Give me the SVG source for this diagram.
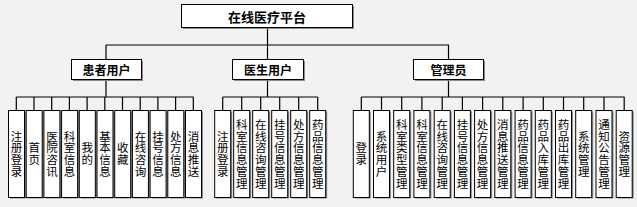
<svg xmlns="http://www.w3.org/2000/svg" width="637" height="207" viewBox="0 0 637 207">
<style>
.bg{fill:#f2f2f2}
.sh{fill:#8c8c8c}
.bx{fill:#ffffff;stroke:#000000;stroke-width:1}
.ln{stroke:#000000;stroke-width:1.2;fill:none}
.t{font-family:"Noto Sans CJK SC","Noto Sans",sans-serif;fill:#000000;text-anchor:middle}
.top{font-size:13px;font-weight:bold;dominant-baseline:central}
.mid{font-size:12px;font-weight:bold;dominant-baseline:central}
.v{font-size:11.5px;writing-mode:vertical-rl;letter-spacing:0.3px}
</style>
<rect class="bg" x="0" y="0" width="637" height="207"/>
<g id="connectors">
<path class="ln" d="M267.5 28V45M106 45H449M106 45V59M267.5 45V59M448.5 45V59"/>
<path class="ln" d="M106 79V97M16.3 97H193.7M16.3 97V110M34 97V110M51.7 97V110M69.4 97V110M87.1 97V110M104.8 97V110M122.5 97V110M140.2 97V110M157.9 97V110M175.6 97V110M193.3 97V110"/>
<path class="ln" d="M267.5 79V97M222.7 97H317.7M222.7 97V110M241.7 97V110M260.7 97V110M279.7 97V110M298.7 97V110M317.7 97V110"/>
<path class="ln" d="M448.5 79V97M361.3 97H624.5M361.3 97V110M381.5 97V110M401.7 97V110M421.9 97V110M442.2 97V110M462.4 97V110M482.6 97V110M502.8 97V110M523.1 97V110M543.3 97V110M563.5 97V110M583.7 97V110M604 97V110M624.2 97V110"/>
</g>
<g id="root"><rect class="sh" x="183" y="6" width="171" height="23"/><rect class="bx" x="181.5" y="4.5" width="171" height="23"/><text class="t top" x="267" y="16">在线医疗平台</text></g>
<g id="patient"><rect class="sh" x="73" y="61" width="70" height="20"/><rect class="bx" x="71.5" y="59.5" width="70" height="20"/><text class="t mid" x="106.5" y="69.5">患者用户</text></g>
<g id="doctor"><rect class="sh" x="234" y="61" width="71" height="20"/><rect class="bx" x="232.5" y="59.5" width="71" height="20"/><text class="t mid" x="268" y="69.5">医生用户</text></g>
<g id="admin"><rect class="sh" x="415" y="61" width="70" height="20"/><rect class="bx" x="413.5" y="59.5" width="70" height="20"/><text class="t mid" x="448.5" y="69.5">管理员</text></g>

<g id="p1"><rect class="sh" x="10" y="111.5" width="16" height="87"/><rect class="bx" x="8.5" y="110.5" width="16" height="87"/><text class="t v" x="16.5" y="154">注册登录</text></g>
<g id="p2"><rect class="sh" x="27.7" y="111.5" width="16" height="87"/><rect class="bx" x="26.2" y="110.5" width="16" height="87"/><text class="t v" x="34.2" y="154">首页</text></g>
<g id="p3"><rect class="sh" x="45.4" y="111.5" width="16" height="87"/><rect class="bx" x="43.9" y="110.5" width="16" height="87"/><text class="t v" x="51.9" y="154">医院咨讯</text></g>
<g id="p4"><rect class="sh" x="63.1" y="111.5" width="16" height="87"/><rect class="bx" x="61.6" y="110.5" width="16" height="87"/><text class="t v" x="69.6" y="154">科室信息</text></g>
<g id="p5"><rect class="sh" x="80.8" y="111.5" width="16" height="87"/><rect class="bx" x="79.3" y="110.5" width="16" height="87"/><text class="t v" x="87.3" y="154">我的</text></g>
<g id="p6"><rect class="sh" x="98.5" y="111.5" width="16" height="87"/><rect class="bx" x="97" y="110.5" width="16" height="87"/><text class="t v" x="105" y="154">基本信息</text></g>
<g id="p7"><rect class="sh" x="116.2" y="111.5" width="16" height="87"/><rect class="bx" x="114.7" y="110.5" width="16" height="87"/><text class="t v" x="122.7" y="154">收藏</text></g>
<g id="p8"><rect class="sh" x="133.9" y="111.5" width="16" height="87"/><rect class="bx" x="132.4" y="110.5" width="16" height="87"/><text class="t v" x="140.4" y="154">在线咨询</text></g>
<g id="p9"><rect class="sh" x="151.6" y="111.5" width="16" height="87"/><rect class="bx" x="150.1" y="110.5" width="16" height="87"/><text class="t v" x="158.1" y="154">挂号信息</text></g>
<g id="p10"><rect class="sh" x="169.3" y="111.5" width="16" height="87"/><rect class="bx" x="167.8" y="110.5" width="16" height="87"/><text class="t v" x="175.8" y="154">处方信息</text></g>
<g id="p11"><rect class="sh" x="187" y="111.5" width="16" height="87"/><rect class="bx" x="185.5" y="110.5" width="16" height="87"/><text class="t v" x="193.5" y="154">消息推送</text></g>

<g id="d1"><rect class="sh" x="216.2" y="111.5" width="16" height="87"/><rect class="bx" x="214.7" y="110.5" width="16" height="87"/><text class="t v" x="222.7" y="154">注册登录</text></g>
<g id="d2"><rect class="sh" x="235.2" y="111.5" width="16" height="87"/><rect class="bx" x="233.7" y="110.5" width="16" height="87"/><text class="t v" x="241.7" y="154">科室信息管理</text></g>
<g id="d3"><rect class="sh" x="254.2" y="111.5" width="16" height="87"/><rect class="bx" x="252.7" y="110.5" width="16" height="87"/><text class="t v" x="260.7" y="154">在线咨询管理</text></g>
<g id="d4"><rect class="sh" x="273.2" y="111.5" width="16" height="87"/><rect class="bx" x="271.7" y="110.5" width="16" height="87"/><text class="t v" x="279.7" y="154">挂号信息管理</text></g>
<g id="d5"><rect class="sh" x="292.2" y="111.5" width="16" height="87"/><rect class="bx" x="290.7" y="110.5" width="16" height="87"/><text class="t v" x="298.7" y="154">处方信息管理</text></g>
<g id="d6"><rect class="sh" x="311.2" y="111.5" width="16" height="87"/><rect class="bx" x="309.7" y="110.5" width="16" height="87"/><text class="t v" x="317.7" y="154">药品信息管理</text></g>

<g id="a1"><rect class="sh" x="354.8" y="111.5" width="16" height="87"/><rect class="bx" x="353.3" y="110.5" width="16" height="87"/><text class="t v" x="361.3" y="154">登录</text></g>
<g id="a2"><rect class="sh" x="375" y="111.5" width="16" height="87"/><rect class="bx" x="373.5" y="110.5" width="16" height="87"/><text class="t v" x="381.5" y="154">系统用户</text></g>
<g id="a3"><rect class="sh" x="395.2" y="111.5" width="16" height="87"/><rect class="bx" x="393.7" y="110.5" width="16" height="87"/><text class="t v" x="401.7" y="154">科室类型管理</text></g>
<g id="a4"><rect class="sh" x="415.4" y="111.5" width="16" height="87"/><rect class="bx" x="413.9" y="110.5" width="16" height="87"/><text class="t v" x="421.9" y="154">科室信息管理</text></g>
<g id="a5"><rect class="sh" x="435.7" y="111.5" width="16" height="87"/><rect class="bx" x="434.2" y="110.5" width="16" height="87"/><text class="t v" x="442.2" y="154">在线咨询管理</text></g>
<g id="a6"><rect class="sh" x="455.9" y="111.5" width="16" height="87"/><rect class="bx" x="454.4" y="110.5" width="16" height="87"/><text class="t v" x="462.4" y="154">挂号信息管理</text></g>
<g id="a7"><rect class="sh" x="476.1" y="111.5" width="16" height="87"/><rect class="bx" x="474.6" y="110.5" width="16" height="87"/><text class="t v" x="482.6" y="154">处方信息管理</text></g>
<g id="a8"><rect class="sh" x="496.3" y="111.5" width="16" height="87"/><rect class="bx" x="494.8" y="110.5" width="16" height="87"/><text class="t v" x="502.8" y="154">消息推送管理</text></g>
<g id="a9"><rect class="sh" x="516.6" y="111.5" width="16" height="87"/><rect class="bx" x="515.1" y="110.5" width="16" height="87"/><text class="t v" x="523.1" y="154">药品信息管理</text></g>
<g id="a10"><rect class="sh" x="536.8" y="111.5" width="16" height="87"/><rect class="bx" x="535.3" y="110.5" width="16" height="87"/><text class="t v" x="543.3" y="154">药品入库管理</text></g>
<g id="a11"><rect class="sh" x="557" y="111.5" width="16" height="87"/><rect class="bx" x="555.5" y="110.5" width="16" height="87"/><text class="t v" x="563.5" y="154">药品出库管理</text></g>
<g id="a12"><rect class="sh" x="577.2" y="111.5" width="16" height="87"/><rect class="bx" x="575.7" y="110.5" width="16" height="87"/><text class="t v" x="583.7" y="154">系统管理</text></g>
<g id="a13"><rect class="sh" x="597.5" y="111.5" width="16" height="87"/><rect class="bx" x="596" y="110.5" width="16" height="87"/><text class="t v" x="604" y="154">通知公告管理</text></g>
<g id="a14"><rect class="sh" x="617.7" y="111.5" width="16" height="87"/><rect class="bx" x="616.2" y="110.5" width="16" height="87"/><text class="t v" x="624.2" y="154">资源管理</text></g>
</svg>
